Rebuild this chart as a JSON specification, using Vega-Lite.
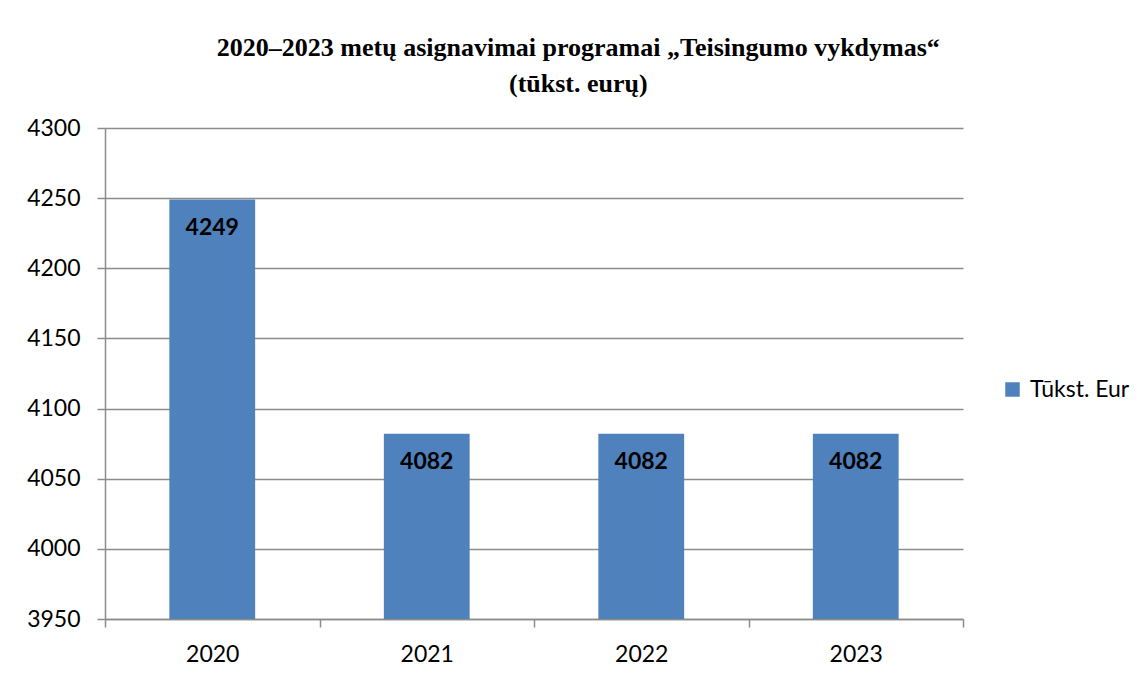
{
  "$schema": "https://vega.github.io/schema/vega-lite/v6.json",
  "width": 858,
  "height": 491,
  "autosize": {"type": "none"},
  "padding": {"left": 105, "top": 128, "right": 185, "bottom": 60},
  "background": "white",
  "title": {
    "text": ["2020–2023 metų asignavimai programai „Teisingumo vykdymas“", "(tūkst. eurų)"],
    "font": "Liberation Serif",
    "fontSize": 26,
    "fontWeight": "bold",
    "color": "black",
    "lineHeight": 36,
    "anchor": "middle",
    "frame": "bounds",
    "offset": 20
  },
  "data": {
    "values": [
      {"year": "2020", "value": 4249, "series": "Tūkst. Eur"},
      {"year": "2021", "value": 4082, "series": "Tūkst. Eur"},
      {"year": "2022", "value": 4082, "series": "Tūkst. Eur"},
      {"year": "2023", "value": 4082, "series": "Tūkst. Eur"}
    ]
  },
  "encoding": {
    "x": {
      "field": "year",
      "type": "nominal",
      "title": null,
      "scale": {"paddingInner": 0, "paddingOuter": 0},
      "axis": {
        "labelAngle": 0,
        "labelFont": "Lato",
        "labelFontSize": 23,
        "labelColor": "black",
        "labelPadding": 16,
        "tickBand": "extent",
        "tickSize": 8,
        "tickColor": "#8c8c8c",
        "tickWidth": 1.5,
        "domainColor": "#8c8c8c",
        "domainWidth": 1.5,
        "grid": false
      }
    },
    "y": {
      "field": "value",
      "type": "quantitative",
      "title": null,
      "scale": {"domain": [3950, 4300], "zero": false, "nice": false},
      "axis": {
        "values": [3950, 4000, 4050, 4100, 4150, 4200, 4250, 4300],
        "format": "d",
        "labelFont": "Lato",
        "labelFontSize": 23,
        "labelColor": "black",
        "labelPadding": 17,
        "tickSize": 8,
        "tickColor": "#8c8c8c",
        "tickWidth": 1.5,
        "domainColor": "#8c8c8c",
        "domainWidth": 1.5,
        "grid": true,
        "gridColor": "#8c8c8c",
        "gridWidth": 1.5
      }
    }
  },
  "layer": [
    {
      "mark": {"type": "bar", "clip": true, "width": {"band": 0.4}},
      "encoding": {
        "color": {
          "field": "series",
          "type": "nominal",
          "scale": {"range": ["#4F81BD"]},
          "legend": {
            "title": null,
            "orient": "none",
            "legendX": 896,
            "legendY": 250,
            "padding": 0,
            "symbolType": "square",
            "symbolSize": 210,
            "symbolStrokeWidth": 0,
            "symbolOpacity": 1,
            "labelFont": "Lato",
            "labelFontSize": 23,
            "labelColor": "black",
            "labelOffset": 6
          }
        }
      }
    },
    {
      "mark": {
        "type": "text",
        "baseline": "top",
        "dy": 17,
        "font": "Lato",
        "fontSize": 23,
        "fontWeight": "bold",
        "color": "black"
      },
      "encoding": {
        "text": {"field": "value", "type": "quantitative", "format": "d"}
      }
    }
  ],
  "config": {
    "view": {"stroke": null}
  }
}
